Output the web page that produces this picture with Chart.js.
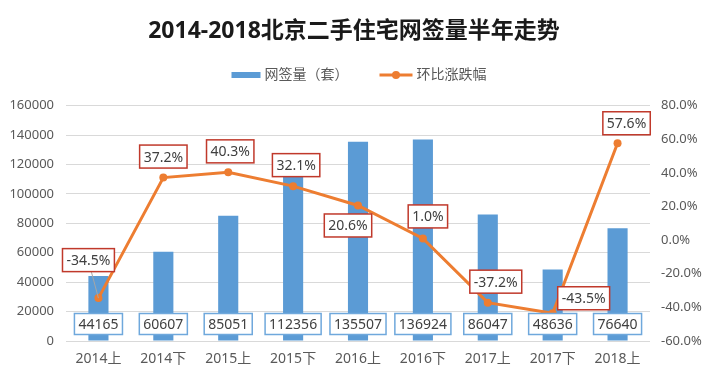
<!DOCTYPE html>
<html lang="zh">
<head>
  <meta charset="UTF-8">
  <title>2014-2018北京二手住宅网签量半年走势</title>
  <script src="https://cdn.jsdelivr.net/npm/chart.js"></script>
  <style>
    html, body { margin: 0; padding: 0; background: #fff; }
    #wrap { width: 708px; height: 379px; }
  </style>
</head>
<body>
<div id="wrap"><canvas id="chart"></canvas></div>
<script>
  const categories = ['2014上', '2014下', '2015上', '2015下', '2016上', '2016下', '2017上', '2017下', '2018上'];
  const volume = [44165, 60607, 85051, 112356, 135507, 136924, 86047, 48636, 76640];
  const change = [-34.5, 37.2, 40.3, 32.1, 20.6, 1.0, -37.2, -43.5, 57.6];

  const BLUE = '#5B9BD5';
  const ORANGE = '#ED7D31';
  const FONT = "'Noto Sans', 'Noto Sans CJK SC', sans-serif";

  // where each % label sits relative to its point (dx, dy)
  const pctOffsets = [[-10, -38], [0, -21], [2, -21], [3, -21], [-10, 20], [5, -22], [8, -21], [31, -15], [9, -20]];

  function box(ctx, text, cx, cy, border, h) {
    ctx.save();
    ctx.font = '14px ' + FONT;
    const bw = ctx.measureText(text).width + 8;
    ctx.fillStyle = '#fff';
    ctx.fillRect(cx - bw / 2, cy - h / 2, bw, h);
    ctx.strokeStyle = border;
    ctx.lineWidth = 1.5;
    ctx.strokeRect(cx - bw / 2, cy - h / 2, bw, h);
    ctx.fillStyle = '#404040';
    ctx.textAlign = 'center';
    ctx.textBaseline = 'middle';
    ctx.fillText(text, cx, cy + 1);
    ctx.restore();
  }

  // legend drawn by hand so the icons look like the original
  const legendPlugin = {
    id: 'handLegend',
    afterDraw(chart) {
      const ctx = chart.ctx;
      const ds = chart.data.datasets;
      const y = 75;
      ctx.save();
      ctx.font = '14px ' + FONT;
      const w0 = ctx.measureText(ds[0].label).width;
      const w1 = ctx.measureText(ds[1].label).width;
      const total = 29 + 4 + w0 + 31 + 33 + 4 + w1;
      let x = 359 - total / 2;
      ctx.fillStyle = BLUE;
      ctx.fillRect(x, y - 3, 29, 6);
      x += 33;
      ctx.fillStyle = '#595959';
      ctx.textBaseline = 'middle';
      ctx.fillText(ds[0].label, x, y);
      x += w0 + 31;
      ctx.strokeStyle = ORANGE;
      ctx.lineWidth = 3;
      ctx.beginPath(); ctx.moveTo(x, y); ctx.lineTo(x + 33, y); ctx.stroke();
      ctx.fillStyle = ORANGE;
      ctx.beginPath(); ctx.arc(x + 16.5, y, 4, 0, Math.PI * 2); ctx.fill();
      x += 37;
      ctx.fillStyle = '#595959';
      ctx.fillText(ds[1].label, x, y);
      ctx.restore();
    }
  };

  const labelPlugin = {
    id: 'labels',
    afterDatasetsDraw(chart) {
      const ctx = chart.ctx;
      const bars = chart.getDatasetMeta(0).data;
      const pts = chart.getDatasetMeta(1).data;
      const bottom = chart.chartArea.bottom;
      bars.forEach((b, i) => {
        box(ctx, String(volume[i]), b.x, bottom - 17, '#6FA8DC', 21);
      });
      pts.forEach((p, i) => {
        const cx = p.x + pctOffsets[i][0];
        const cy = p.y + pctOffsets[i][1];
        if (i === 0) {
          ctx.save();
          ctx.strokeStyle = '#A6A6A6';
          ctx.lineWidth = 1;
          ctx.beginPath(); ctx.moveTo(cx + 3, cy + 12); ctx.lineTo(p.x, p.y); ctx.stroke();
          ctx.restore();
        }
        box(ctx, change[i].toFixed(1) + '%', cx, cy, '#C0392B', 23);
      });
    }
  };

  new Chart(document.getElementById('chart'), {
    data: {
      labels: categories,
      datasets: [
        {
          type: 'bar',
          label: '网签量（套）',
          data: volume,
          backgroundColor: BLUE,
          barPercentage: 0.62,
          categoryPercentage: 0.5,
          yAxisID: 'y',
          order: 2
        },
        {
          type: 'line',
          label: '环比涨跌幅',
          data: change,
          borderColor: ORANGE,
          backgroundColor: ORANGE,
          borderWidth: 3,
          pointRadius: 4,
          pointBackgroundColor: ORANGE,
          pointBorderWidth: 0,
          tension: 0,
          yAxisID: 'y1',
          order: 1
        }
      ]
    },
    options: {
      responsive: true,
      maintainAspectRatio: false,
      animation: false,
      layout: { padding: 0 },
      plugins: {
        title: {
          display: true,
          text: '2014-2018北京二手住宅网签量半年走势',
          color: '#1a1a1a',
          font: { family: FONT, size: 23, weight: 'bold' },
          padding: { top: 18, bottom: 60 }
        },
        legend: { display: false },
        tooltip: { enabled: false }
      },
      scales: {
        x: {
          grid: { display: false },
          border: { display: false },
          ticks: { color: '#595959', font: { family: FONT, size: 14 }, padding: 2, maxRotation: 0 },
          afterFit(s) { s.height = 38; }
        },
        y: {
          position: 'left',
          min: 0,
          max: 160000,
          ticks: {
            stepSize: 20000,
            color: '#595959',
            font: { family: FONT, size: 13 },
            padding: 12,
            callback: v => String(v)
          },
          grid: { color: '#D9D9D9', lineWidth: 1, drawTicks: false },
          border: { display: false },
          afterFit(s) { s.width = 66; }
        },
        y1: {
          position: 'right',
          min: -60,
          max: 80,
          ticks: {
            stepSize: 20,
            color: '#595959',
            font: { family: FONT, size: 13 },
            padding: 11,
            callback: v => v.toFixed(1) + '%'
          },
          grid: { display: false, drawTicks: false },
          border: { display: false },
          afterFit(s) { s.width = 58; }
        }
      }
    },
    plugins: [labelPlugin, legendPlugin]
  });
</script>
</body>
</html>
